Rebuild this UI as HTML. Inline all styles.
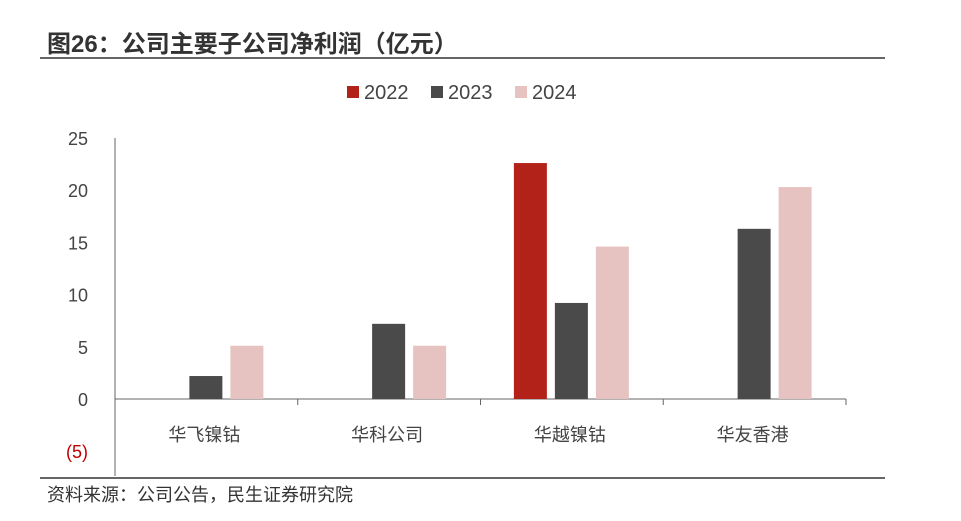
<!DOCTYPE html>
<html><head><meta charset="utf-8">
<style>
body{margin:0;background:#fff;width:961px;height:516px;overflow:hidden;font-family:"Liberation Sans","Noto Sans CJK SC",sans-serif;}
</style></head>
<body>
<svg width="961" height="516" xmlns="http://www.w3.org/2000/svg" font-family="Liberation Sans, Noto Sans CJK SC, sans-serif">
<text x="47" y="52" font-size="24" font-weight="bold" fill="#333">图26：公司主要子公司净利润（亿元）</text>
<line x1="40" y1="58" x2="885" y2="58" stroke="#666" stroke-width="2"/>
<g id="legend"></g>
<g id="axes"></g>
<g id="bars"></g>
<line x1="40" y1="478" x2="885" y2="478" stroke="#666" stroke-width="2"/>
<text x="47" y="501" font-size="18" fill="#333">资料来源：公司公告，民生证券研究院</text>
</svg>
<script>
const categories=["华飞镍钴","华科公司","华越镍钴","华友香港"];
const seriesNames=["2022","2023","2024"];
const v2022=[null,null,22.6,null];
const v2023=[2.2,7.2,9.2,16.3];
const v2024=[5.1,5.1,14.6,20.3];
const yTicks=[25,20,15,10,5,0,-5];
const colors=["#b22218","#4a4a4a","#e6c3c1"];
const NS="http://www.w3.org/2000/svg";
const x0=115,x1=846,yZero=399,pxPer=10.44;
const y=v=>yZero-v*pxPer;
const bw=(x1-x0)/categories.length;
function mk(t,a,p){const e=document.createElementNS(NS,t);for(const k in a)e.setAttribute(k,a[k]);p.appendChild(e);return e;}
const axes=document.getElementById('axes'),bars=document.getElementById('bars'),leg=document.getElementById('legend');
const ax=mk('line',{x1:x0,y1:138,x2:x0,y2:476,stroke:'#666','stroke-width':1},axes);


const xa=mk('line',{x1:x0,y1:yZero,x2:x1,y2:yZero,stroke:'#666','stroke-width':1},axes);


yTicks.forEach(t=>{
  const tx=mk('text',{x:88,y:y(t)+7,'font-size':18,'text-anchor':'end',fill:t<0?'#c00000':'#444'},axes);
  tx.textContent=t<0?'('+(-t)+')':t;
  
  
});
for(let i=0;i<=categories.length;i++){
  const tk=mk('line',{x1:x0+i*bw,y1:yZero,x2:x0+i*bw,y2:yZero+6,stroke:'#666'},axes);
  
  
}
const series=[v2022,v2023,v2024];
categories.forEach((c,i)=>{
  const cx=x0+bw*(i+0.5);
  const lb=mk('text',{x:cx-2,y:441,'font-size':18,'text-anchor':'middle',fill:'#444'},axes);
  lb.textContent=c;
  
  
  series.forEach((s,j)=>{
    const v=s[i]; if(v==null)return;
    const bx=cx-58+j*41;
    const r=mk('rect',{x:bx,y:Math.min(y(v),yZero),width:33,height:Math.abs(v*pxPer),fill:colors[j]},bars);
    
    
  });
});
seriesNames.forEach((n,j)=>{
  const lx=347+j*84;
  const r=mk('rect',{x:lx,y:86,width:12,height:12,fill:colors[j]},leg);
  
  
  const t=mk('text',{x:lx+17,y:99,'font-size':20,fill:'#444'},leg);
  t.textContent=n;
  
  
});
</script>
</body></html>
